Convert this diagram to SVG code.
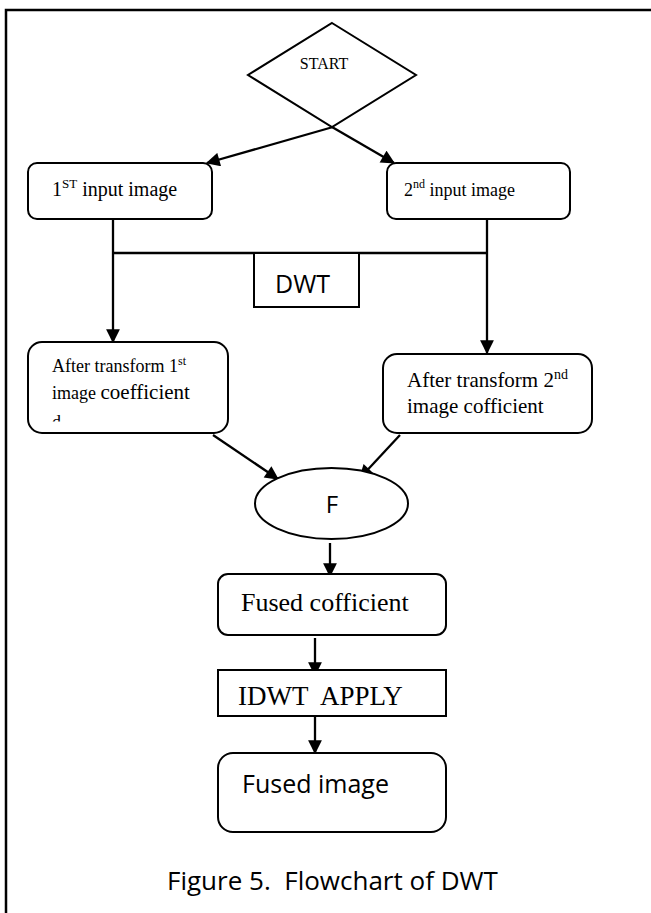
<svg xmlns="http://www.w3.org/2000/svg" width="651" height="913" viewBox="0 0 651 913">
<style>
.ln{fill:none;stroke:#000;stroke-width:2.3}
.bx{fill:#fff;stroke:#000;stroke-width:2}
.serif{font-family:"Liberation Serif","Times New Roman",serif;fill:#000}
.sans{font-family:"Open Sans","Noto Sans","Liberation Sans",sans-serif;fill:#000}
</style>
<defs>
<marker id="ah" viewBox="0 0 12 12" refX="11" refY="6" markerWidth="6.5" markerHeight="6" markerUnits="strokeWidth" orient="auto">
<path d="M0,0 L12,6 L0,12 z" fill="#000"/>
</marker>
<clipPath id="clipd"><rect x="40" y="414" width="40" height="7.5"/></clipPath>
</defs>
<rect width="651" height="913" fill="#fff"/>
<g id="frame">
<path d="M6,913 V10 H651" fill="none" stroke="#000" stroke-width="2.5"/>
</g>
<g id="connectors">
<line class="ln" x1="333" y1="127" x2="207" y2="163" marker-end="url(#ah)"/>
<line class="ln" x1="332" y1="127" x2="394" y2="163" marker-end="url(#ah)"/>
<line class="ln" x1="113" y1="219" x2="113" y2="342" marker-end="url(#ah)"/>
<line class="ln" x1="487" y1="219" x2="487" y2="353" marker-end="url(#ah)"/>
<line class="ln" x1="113" y1="253" x2="487" y2="253"/>
<line class="ln" x1="213" y1="435" x2="278" y2="479" marker-end="url(#ah)"/>
<line class="ln" x1="400" y1="435" x2="360" y2="478" marker-end="url(#ah)"/>
<line class="ln" x1="330" y1="543" x2="330" y2="576" marker-end="url(#ah)"/>
<line class="ln" x1="315" y1="638" x2="315" y2="675" marker-end="url(#ah)"/>
<line class="ln" x1="315" y1="716" x2="315" y2="753" marker-end="url(#ah)"/>
</g>
<g id="start">
<polygon points="332,23 416,75 332,127 248,75" fill="none" stroke="#000" stroke-width="2"/>
<text class="serif" x="324" y="69" font-size="16" text-anchor="middle">START</text>
</g>
<g id="input1">
<rect class="bx" x="28" y="163" width="184" height="56" rx="9"/>
<text class="serif" x="52" y="196" font-size="20">1<tspan font-size="13" dy="-8">ST</tspan><tspan dy="8"> input image</tspan></text>
</g>
<g id="input2">
<rect class="bx" x="387" y="163" width="183" height="56" rx="9"/>
<text class="serif" x="404" y="196" font-size="18">2<tspan font-size="12" dy="-8">nd</tspan><tspan dy="8"> input image</tspan></text>
</g>
<g id="dwt">
<rect class="bx" x="254" y="253" width="105" height="54"/>
<text class="sans" x="275" y="293" font-size="25">DWT</text>
</g>
<g id="coef1">
<rect class="bx" x="28" y="342" width="200" height="91" rx="14"/>
<text class="serif" x="52" y="372" font-size="18">After transform 1<tspan font-size="12" dy="-7">st</tspan></text>
<text class="serif" x="52" y="399" font-size="18">image <tspan font-size="21">coefficient</tspan></text>
<text class="serif" x="52" y="428" font-size="18" clip-path="url(#clipd)">d</text>
</g>
<g id="coef2">
<rect class="bx" x="383" y="354" width="209" height="79" rx="14"/>
<text class="serif" x="407" y="387" font-size="21">After transform 2<tspan font-size="14" dy="-8">nd</tspan></text>
<text class="serif" x="407" y="413" font-size="21">image cofficient</text>
</g>
<g id="fusion">
<ellipse cx="331.5" cy="503.5" rx="76.5" ry="35.5" fill="#fff" stroke="#000" stroke-width="2"/>
<text class="sans" x="332" y="513" font-size="24" text-anchor="middle">F</text>
</g>
<g id="fusedcoef">
<rect class="bx" x="218" y="574" width="228" height="61" rx="10"/>
<text class="serif" x="241" y="611" font-size="26">Fused cofficient</text>
</g>
<g id="idwt">
<rect class="bx" x="218" y="670" width="228" height="46"/>
<text class="serif" x="238" y="705" font-size="27" style="white-space:pre">IDWT  APPLY</text>
</g>
<g id="fusedimage">
<rect class="bx" x="218" y="753" width="228" height="79" rx="15"/>
<text class="sans" x="242" y="793" font-size="25">Fused image</text>
</g>
<g id="caption">
<text class="sans" x="167" y="890" font-size="26" style="white-space:pre">Figure 5.  Flowchart of DWT</text>
</g>
</svg>
